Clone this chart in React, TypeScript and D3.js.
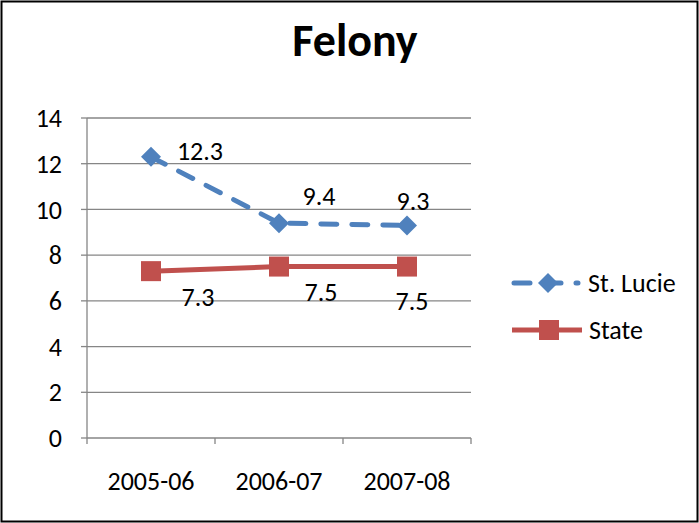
import React from 'react'
import * as d3 from 'd3'

const categories = ['2005-06', '2006-07', '2007-08']
const stLucie = [12.3, 9.4, 9.3]
const state = [7.3, 7.5, 7.5]
const yTicks = [0, 2, 4, 6, 8, 10, 12, 14]

const W = 699
const H = 523
const margin = { top: 118, right: 228, bottom: 85, left: 87 }
const FONT = 'Carlito, Calibri, "Open Sans", "Liberation Sans", sans-serif'
const BLUE = '#4F81BD'
const RED = '#C0504D'
const GRID = '#868686'
const FS = 26

const App: React.FC = () => {
  const innerW = W - margin.left - margin.right
  const innerH = H - margin.top - margin.bottom

  const x = d3.scaleBand<string>().domain(categories).range([0, innerW])
  const y = d3.scaleLinear().domain([0, 14]).range([innerH, 0])
  const cx = (c: string) => (x(c) ?? 0) + x.bandwidth() / 2

  const line = d3.line<number>()
    .x((_, i) => cx(categories[i]))
    .y(d => y(d))

  const diamond = (px: number, py: number, r = 10) =>
    `M${px},${py - r}L${px + r},${py}L${px},${py + r}L${px - r},${py}Z`

  // label offsets relative to the point (dx, dy)
  const lucieLabelOff = [[49, -6], [40, -27], [6, -25]]
  const stateLabelOff = [[47, 26], [42, 25], [5, 34]]

  const bandEdges = [0, ...categories.map(c => (x(c) ?? 0) + x.bandwidth())]

  return (
    <svg width={W} height={H} style={{ position: 'absolute', left: 0, top: 0 }} fontFamily={FONT}>
      <rect x={0} y={0} width={W} height={H} fill="#fff" />
      <rect x={1.5} y={1.5} width={W - 3} height={H - 3} fill="none" stroke="#000" strokeWidth={2} />
      <text x={355} y={56} textAnchor="middle" fontSize={46} fontWeight="bold" fill="#000">Felony</text>

      <g transform={`translate(${margin.left},${margin.top})`}>
        {yTicks.map(t => (
          <g key={t}>
            <line x1={0} x2={innerW} y1={y(t)} y2={y(t)} stroke={GRID} strokeWidth={1.3} />
            <line x1={-6} x2={0} y1={y(t)} y2={y(t)} stroke={GRID} strokeWidth={1.3} />
            <text x={-25} y={y(t)} dy="0.35em" textAnchor="end" fontSize={FS} fill="#000">{t}</text>
          </g>
        ))}
        <line x1={0} x2={0} y1={0} y2={innerH} stroke={GRID} strokeWidth={1.3} />
        {bandEdges.map((e, i) => (
          <line key={i} x1={e} x2={e} y1={innerH} y2={innerH + 6} stroke={GRID} strokeWidth={1.3} />
        ))}
        {categories.map(c => (
          <text key={c} x={cx(c)} y={innerH + 43} dy="0.35em" textAnchor="middle" fontSize={FS} fill="#000">{c}</text>
        ))}

        <path d={line(stLucie) ?? ''} fill="none" stroke={BLUE} strokeWidth={5} strokeDasharray="16 15" strokeLinecap="round" />
        <path d={line(state) ?? ''} fill="none" stroke={RED} strokeWidth={5} />

        {stLucie.map((v, i) => (
          <path key={i} d={diamond(cx(categories[i]), y(v))} fill={BLUE} />
        ))}
        {state.map((v, i) => (
          <rect key={i} x={cx(categories[i]) - 10} y={y(v) - 10} width={20} height={20} fill={RED} />
        ))}

        {stLucie.map((v, i) => (
          <text key={i} x={cx(categories[i]) + lucieLabelOff[i][0]} y={y(v) + lucieLabelOff[i][1]} dy="0.35em"
            textAnchor="middle" fontSize={FS} fill="#000">{v.toFixed(1)}</text>
        ))}
        {state.map((v, i) => (
          <text key={i} x={cx(categories[i]) + stateLabelOff[i][0]} y={y(v) + stateLabelOff[i][1]} dy="0.35em"
            textAnchor="middle" fontSize={FS} fill="#000">{v.toFixed(1)}</text>
        ))}
      </g>

      <g transform="translate(512,283)">
        <line x1={2} x2={66} y1={0} y2={0} stroke={BLUE} strokeWidth={5} strokeDasharray="16 15" strokeLinecap="round" />
        <path d={diamond(36, 0)} fill={BLUE} />
        <text x={76} y={0} dy="0.35em" fontSize={FS} fill="#000">St. Lucie</text>
      </g>
      <g transform="translate(512,330)">
        <line x1={0} x2={70} y1={0} y2={0} stroke={RED} strokeWidth={5} />
        <rect x={27} y={-10} width={20} height={20} fill={RED} />
        <text x={77} y={0} dy="0.35em" fontSize={FS} fill="#000">State</text>
      </g>
    </svg>
  )
}

export default App
